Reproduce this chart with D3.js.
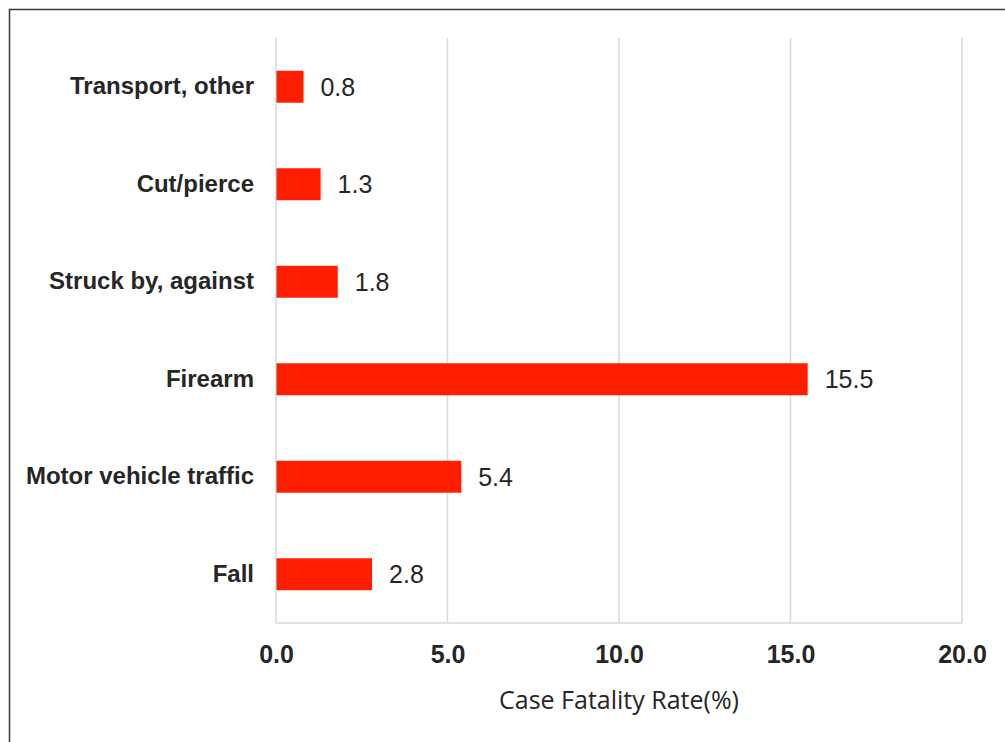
<!DOCTYPE html>
<html>
<head>
<meta charset="utf-8">
<script src="https://cdn.jsdelivr.net/npm/d3@7"></script>
<style>
  html, body { margin: 0; padding: 0; background: #fff; }
  svg { display: block; }
</style>
</head>
<body>
<svg id="chart" width="1005" height="742"></svg>
<script>
// Case fatality rate by injury mechanism
const categories = ["Transport, other", "Cut/pierce", "Struck by, against", "Firearm", "Motor vehicle traffic", "Fall"];
const rates = [0.8, 1.3, 1.8, 15.5, 5.4, 2.8];
const xTicks = [0, 5, 10, 15, 20];
const xTitle = "Case Fatality Rate(%)";

const data = categories.map((c, i) => ({ category: c, value: rates[i] }));

const svg = d3.select("#chart");
const W = 1005, H = 742;
const margin = { top: 38, right: 43, bottom: 119, left: 276 };
const innerW = W - margin.left - margin.right;
const innerH = H - margin.top - margin.bottom;

// outer frame (runs off the right and bottom edges)
svg.append("rect")
  .attr("x", 9.5).attr("y", 9.5)
  .attr("width", W).attr("height", H)
  .attr("fill", "none").attr("stroke", "#3a3a3a").attr("stroke-width", 1.5);

const g = svg.append("g").attr("transform", `translate(${margin.left},${margin.top})`);

const x = d3.scaleLinear().domain([0, 20]).range([0, innerW]);
const y = d3.scaleBand().domain(categories).range([0, innerH]).paddingInner(0.672).paddingOuter(0.336);

// vertical gridlines
g.append("g")
  .selectAll("line")
  .data(xTicks)
  .join("line")
  .attr("x1", d => x(d)).attr("x2", d => x(d))
  .attr("y1", 0).attr("y2", innerH)
  .attr("stroke", "#d9d9d9").attr("stroke-width", 1.5);

// baseline
g.append("line")
  .attr("x1", 0).attr("x2", innerW)
  .attr("y1", innerH).attr("y2", innerH)
  .attr("stroke", "#d9d9d9").attr("stroke-width", 1.5);

// x axis tick labels
const xAxis = d3.axisBottom(x).tickValues(xTicks).tickFormat(d3.format(".1f")).tickSize(0).tickPadding(0);
const xg = g.append("g").attr("transform", `translate(0,${innerH})`).call(xAxis);
xg.select(".domain").remove();
xg.selectAll("text")
  .attr("dy", null)
  .attr("y", 40)
  .attr("font-family", "'Liberation Sans', Arial, sans-serif")
  .attr("font-size", 25)
  .attr("font-weight", "bold")
  .attr("fill", "#262626");

// y axis category labels
const yAxis = d3.axisLeft(y).tickSize(0).tickPadding(22);
const yg = g.append("g").call(yAxis);
yg.select(".domain").remove();
yg.selectAll("text")
  .attr("font-family", "'Liberation Sans', Arial, sans-serif")
  .attr("font-size", 24)
  .attr("font-weight", "bold")
  .attr("fill", "#262626");

// bars
g.append("g")
  .selectAll("rect")
  .data(data)
  .join("rect")
  .attr("x", 0.5)
  .attr("y", d => y(d.category))
  .attr("width", d => x(d.value) - 0.5)
  .attr("height", y.bandwidth())
  .attr("fill", "#ff1e00");

// value labels
g.append("g")
  .selectAll("text")
  .data(data)
  .join("text")
  .attr("x", d => x(d.value) + 17)
  .attr("y", d => y(d.category) + y.bandwidth() / 2)
  .attr("dy", "0.36em")
  .attr("font-family", "'Liberation Sans', Arial, sans-serif")
  .attr("font-size", 25)
  .attr("fill", "#262626")
  .text(d => d3.format(".1f")(d.value));

// axis title
g.append("text")
  .attr("x", innerW / 2)
  .attr("y", innerH + 86)
  .attr("text-anchor", "middle")
  .attr("font-family", "'Open Sans', 'Noto Sans', sans-serif")
  .attr("font-size", 25)
  .attr("fill", "#262626")
  .text(xTitle);
</script>
</body>
</html>
